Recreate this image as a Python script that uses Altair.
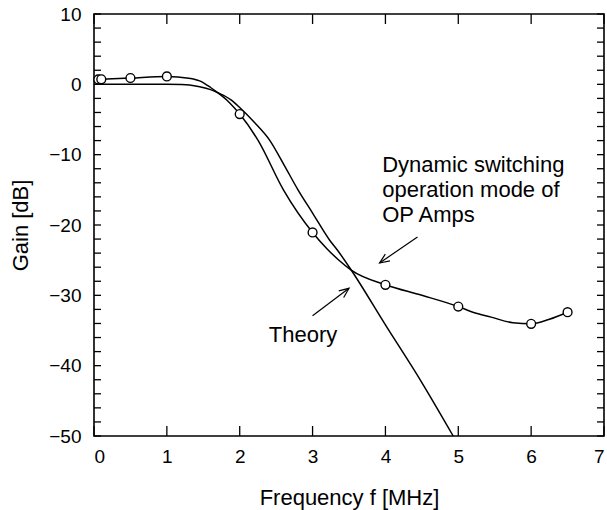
import math
import altair as alt
import pandas as pd

# ---------------- data ----------------
meas_x = [0.06, 0.1, 0.5, 1.0, 2.0, 3.0, 4.0, 5.0, 6.0, 6.5]
meas_y = [0.7, 0.72, 0.9, 1.12, -4.23, -21.06, -28.5, -31.6, -34.05, -32.4]

mline_x = [0.06, 0.5, 1.0, 1.3, 1.45, 1.6, 1.7, 1.85, 2.0, 2.25, 2.6, 3.0,
           3.2, 3.35, 3.53, 4.0, 4.5, 5.0, 5.2, 5.45, 5.75, 6.0, 6.25, 6.5]
mline_y = [0.7, 0.9, 1.12, 0.88, 0.5, -0.45, -1.2, -2.5, -4.23, -7.93, -15.0, -21.06,
           -23.4, -24.9, -26.4, -28.5, -30.0, -31.6, -32.4, -33.1, -33.9, -34.05, -33.4, -32.4]

theory_x = [0.0, 1.0, 1.2, 1.31, 1.45, 1.6, 1.7, 1.88, 2.0, 2.2, 2.41, 2.6, 2.8,
            3.0, 3.235, 3.35, 3.53, 4.0, 4.5, 4.93]
theory_y = [0.0, 0.0, -0.02, -0.08, -0.33, -0.75, -1.2, -2.2, -3.3, -5.4, -7.93, -11.3, -15.0,
            -18.3, -22.16, -23.7, -26.4, -34.2, -42.4, -50.0]

arrow_x1 = [4.44, 3.0]
arrow_y1 = [-21.7, -32.9]
arrow_x2 = [3.92, 3.50]
arrow_y2 = [-25.4, -29.0]

note_lines = ["Dynamic switching", "operation mode of", "OP Amps"]
note_x, note_y = 3.956, -12.48
theory_label, theory_lx, theory_ly = "Theory", 2.40, -36.63

x_labels = [0, 1, 2, 3, 4, 5, 6, 7]
y_labels = [-50, -40, -30, -20, -10, 0, 10]
y_ticks = list(range(-50, 12, 2))

# ---------------- layout ----------------
W, H = 510, 422
FONT = "Liberation Sans"
XD, YD = [0, 7], [-50, 10]

xs = alt.Scale(domain=XD, nice=False, zero=False)
ys = alt.Scale(domain=YD, nice=False, zero=False)

meas_df = pd.DataFrame({"x": meas_x, "y": meas_y})
mline_df = pd.DataFrame({"x": mline_x, "y": mline_y})
theory_df = pd.DataFrame({"x": theory_x, "y": theory_y})

px_per_x = W / (XD[1] - XD[0])
px_per_y = H / (YD[1] - YD[0])
angles = []
for a, b, c, d in zip(arrow_x1, arrow_y1, arrow_x2, arrow_y2):
    dx = (c - a) * px_per_x
    dy = -(d - b) * px_per_y
    angles.append((math.degrees(math.atan2(dx, -dy)) + 360) % 360)
arrow_df = pd.DataFrame({"x1": arrow_x1, "y1": arrow_y1, "x2": arrow_x2,
                         "y2": arrow_y2, "angle": angles})

base_x = alt.X("x:Q", scale=xs,
               axis=alt.Axis(values=x_labels, format="d", title="Frequency f [MHz]"))
base_y = alt.Y("y:Q", scale=ys,
               axis=alt.Axis(values=y_labels, format="d", title="Gain [dB]"))

theory_line = alt.Chart(theory_df).mark_line(
    color="black", strokeWidth=1.5, interpolate="monotone"
).encode(x=base_x, y=base_y, order="x:Q")

meas_line = alt.Chart(mline_df).mark_line(
    color="black", strokeWidth=1.5, interpolate="monotone"
).encode(x=alt.X("x:Q", scale=xs), y=alt.Y("y:Q", scale=ys), order="x:Q")

meas_pts = alt.Chart(meas_df).mark_point(
    shape="circle", filled=True, fill="white", stroke="black",
    strokeWidth=1.4, size=78, opacity=1
).encode(x=alt.X("x:Q", scale=xs), y=alt.Y("y:Q", scale=ys))

# inward ticks
ytick_df = pd.DataFrame({"y": y_ticks})
left_ticks = alt.Chart(ytick_df).mark_rule(color="black", strokeWidth=1.3).encode(
    y=alt.Y("y:Q", scale=ys), x=alt.value(0), x2=alt.value(7))
right_ticks = alt.Chart(ytick_df).mark_rule(color="black", strokeWidth=1.3).encode(
    y=alt.Y("y:Q", scale=ys), x=alt.value(W - 7), x2=alt.value(W))
xtick_df = pd.DataFrame({"x": x_labels})
top_ticks = alt.Chart(xtick_df).mark_rule(color="black", strokeWidth=1.3).encode(
    x=alt.X("x:Q", scale=xs), y=alt.value(0), y2=alt.value(10))
bottom_ticks = alt.Chart(xtick_df).mark_rule(color="black", strokeWidth=1.3).encode(
    x=alt.X("x:Q", scale=xs), y=alt.value(H - 10), y2=alt.value(H))

# arrows
arrow_shafts = alt.Chart(arrow_df).mark_rule(color="black", strokeWidth=1.2).encode(
    x=alt.X("x1:Q", scale=xs), y=alt.Y("y1:Q", scale=ys),
    x2="x2:Q", y2="y2:Q")
arrow_heads = alt.Chart(arrow_df).mark_point(
    shape="M -0.42 1 L 0 0 L 0.42 1", filled=False, stroke="black",
    strokeWidth=1.2, size=380, opacity=1
).encode(x=alt.X("x2:Q", scale=xs), y=alt.Y("y2:Q", scale=ys),
         angle=alt.Angle("angle:Q", scale=None))

note = alt.Chart(pd.DataFrame({"x": [note_x], "y": [note_y], "t": [note_lines]})).mark_text(
    align="left", baseline="alphabetic", font=FONT, fontSize=22, lineHeight=25, color="black"
).encode(x=alt.X("x:Q", scale=xs), y=alt.Y("y:Q", scale=ys), text="t")

theory_txt = alt.Chart(pd.DataFrame({"x": [theory_lx], "y": [theory_ly], "t": [theory_label]})).mark_text(
    align="left", baseline="alphabetic", font=FONT, fontSize=22, color="black"
).encode(x=alt.X("x:Q", scale=xs), y=alt.Y("y:Q", scale=ys), text="t")

chart = alt.layer(
    theory_line, meas_line, meas_pts, left_ticks, right_ticks, top_ticks, bottom_ticks,
    arrow_shafts, arrow_heads, note, theory_txt
).properties(
    width=W, height=H,
    autosize=alt.AutoSizeParams(type="none"),
    padding={"left": 94, "top": 14, "right": 3, "bottom": 74},
    background="white",
).configure_view(
    stroke="black", strokeWidth=1.6
).configure_axis(
    grid=False, domain=False, ticks=False, tickSize=0,
    labelFont=FONT, titleFont=FONT, labelColor="black", titleColor="black",
    labelFontSize=19, titleFontSize=22, titleFontWeight="normal",
).configure_axisX(
    labelPadding=11, titlePadding=21
).configure_axisY(
    labelPadding=13, titlePadding=16
)

chart.save("out.html", embed_options={"renderer": "svg", "actions": False})
